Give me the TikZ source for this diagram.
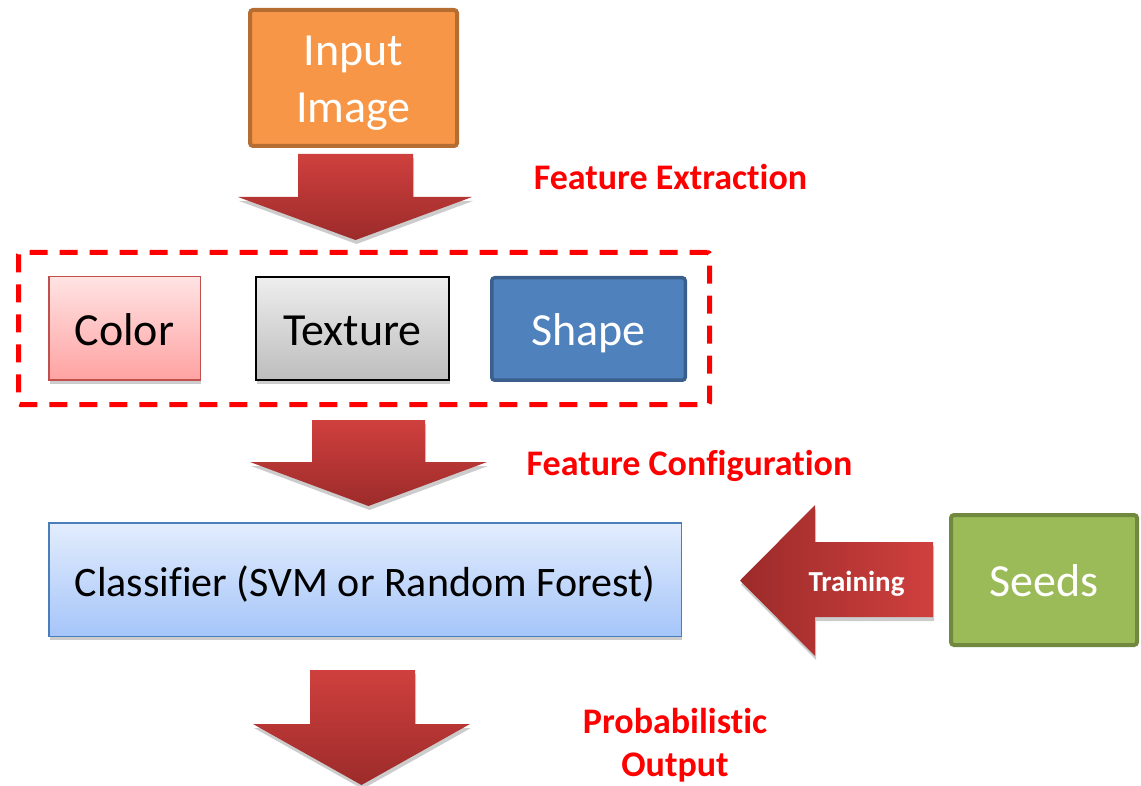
\documentclass[tikz,border=0pt]{standalone}
\usepackage{fontspec}
\setmainfont{Carlito}[Ligatures=NoCommon]
\usetikzlibrary{shadows}
\definecolor{inputFill}{HTML}{F79646}
\definecolor{inputLine}{HTML}{B66D31}
\definecolor{seedFill}{HTML}{9BBB59}
\definecolor{seedLine}{HTML}{71893F}
\definecolor{shapeFill}{HTML}{4F81BD}
\definecolor{shapeLine}{HTML}{3A5F8C}
\definecolor{colTop}{HTML}{FFE3E3}
\definecolor{colBot}{HTML}{FFA2A2}
\definecolor{colLine}{HTML}{C0504D}
\definecolor{texTop}{HTML}{EEEEEE}
\definecolor{texBot}{HTML}{BDBDBD}
\definecolor{clsTop}{HTML}{E3EDFD}
\definecolor{clsBot}{HTML}{A5C5F9}
\definecolor{clsLine}{HTML}{4A7EBB}
\definecolor{arrTop}{HTML}{CF403E}
\definecolor{arrBot}{HTML}{9C2B2A}
\begin{document}
\begin{tikzpicture}[x=1pt,y=-1pt,
  box/.style={inner sep=0pt, align=center, font=\fontsize{46}{57}\selectfont, text height=33pt, text depth=0pt},
  softshadow/.style={drop shadow={shadow xshift=1pt, shadow yshift=-4pt, opacity=0.2, fill=black}},
  lbl/.style={text=red, font=\bfseries\fontsize{36}{46}\selectfont, anchor=base, inner sep=0pt},
  barrow/.style={draw=none, softshadow},
]
\useasboundingbox (0,0) rectangle (1141,786);

% boxes
\node[draw=inputLine, fill=inputFill, line width=4pt, rounded corners=3pt, inner sep=0pt, align=center,
  font=\fontsize{46}{57}\selectfont, text=white, minimum width=207pt, minimum height=136pt]
  (input) at (353.5,78) {\rule{0pt}{40pt}Input\\Image};

\node[draw=red, line width=5pt, dash pattern=on 18pt off 12pt, rounded corners=2pt,
  minimum width=691pt, minimum height=152pt] (group) at (364,328.5) {};

\node[box, softshadow, draw=colLine, line width=1.5pt, top color=colTop, bottom color=colBot,
  minimum width=151.5pt, minimum height=103.5pt] (color) at (124.5,328.5) {Color};
\node[box, softshadow, draw=black, line width=2pt, top color=texTop, bottom color=texBot,
  minimum width=193pt, minimum height=103pt] (texture) at (352.5,328.5) {Texture};
\node[box, draw=shapeLine, fill=shapeFill, line width=3.5pt, rounded corners=3pt, text=white,
  minimum width=193.5pt, minimum height=102.5pt] (shape) at (588.5,329) {Shape};

\node[box, softshadow, draw=clsLine, line width=1.5pt, top color=clsTop, bottom color=clsBot,
  font=\fontsize{42}{50}\selectfont, minimum width=632.5pt, minimum height=113.5pt]
  (classifier) at (365,579.5) {Classifier (SVM or Random Forest)};

\node[box, draw=seedLine, fill=seedFill, line width=4pt, rounded corners=3pt, text=white,
  minimum width=186pt, minimum height=130pt] (seeds) at (1044,580) {Seeds};

% block arrows
\path[barrow, top color=arrTop, bottom color=arrBot]
  (298,154) -- (413,154) -- (413,197) -- (472,197) -- (355.5,240) -- (238,197) -- (298,197) -- cycle;
\path[barrow, top color=arrTop, bottom color=arrBot]
  (312,420) -- (425,420) -- (425,462) -- (487,462) -- (368.5,506) -- (250,462) -- (312,462) -- cycle;
\path[barrow, top color=arrTop, bottom color=arrBot]
  (310,670) -- (415,670) -- (415,724) -- (470,724) -- (361.5,785) -- (253,724) -- (310,724) -- cycle;
\path[barrow, left color=arrBot, right color=arrTop]
  (933,542) -- (933,617) -- (815,617) -- (815,656) -- (740,580.5) -- (815,505) -- (815,542) -- cycle;

% labels
\node[lbl] (fe) at (670.5,190) {Feature Extraction};
\node[lbl] (fc) at (689.5,475) {Feature Configuration};
\node[lbl, text=white, font=\bfseries\fontsize{29}{34}\selectfont] (tr) at (856.5,591) {Training};
\node[lbl] (po1) at (675,733) {Probabilistic};
\node[lbl] (po2) at (675,776) {Output};
\end{tikzpicture}
\end{document}
